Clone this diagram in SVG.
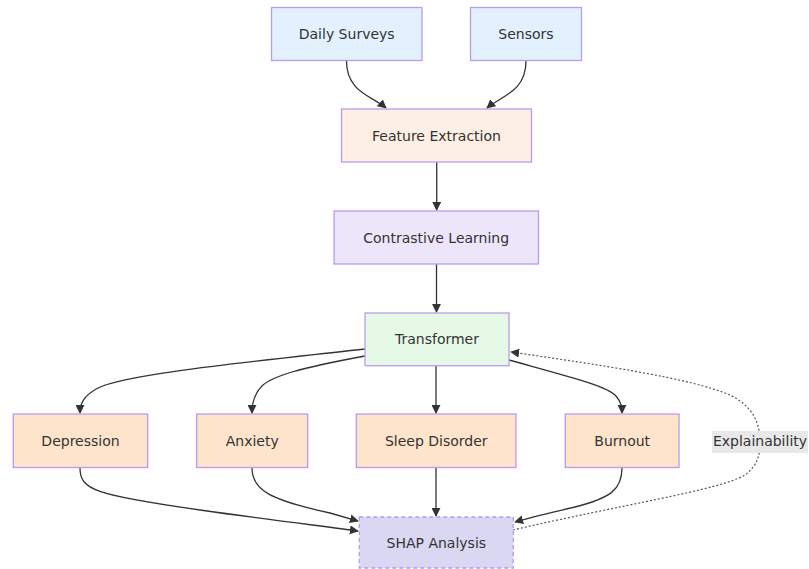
<svg xmlns="http://www.w3.org/2000/svg" width="809" height="569" viewBox="0 0 809 569">
<style>
.n rect{stroke:#b79cf0;stroke-width:1.3}
.t{font-family:"DejaVu Sans",Verdana,sans-serif;font-size:14px;fill:#333;text-anchor:middle;dominant-baseline:central}
.e{fill:none;stroke:#333;stroke-width:1.3}
.d{fill:none;stroke:#555;stroke-width:1.2;stroke-dasharray:2,2}
.src rect{fill:#e3f0fd}
.out rect{fill:#ffe4cc}
</style>
<defs>
<marker id="a" viewBox="0 0 10 10" refX="9" refY="5" markerWidth="9" markerHeight="9" markerUnits="userSpaceOnUse" orient="auto">
<path d="M0,0 L10,5 L0,10 z" fill="#333"/>
</marker>
</defs>
<g id="connectors">
<path class="e" d="M346.5,61 C346.5,92 372,96 386,108" marker-end="url(#a)"/>
<path class="e" d="M526,61 C526,92 501,96 487,108" marker-end="url(#a)"/>
<path class="e" d="M436.7,162 L436.7,210" marker-end="url(#a)"/>
<path class="e" d="M436.5,264 L436.5,312" marker-end="url(#a)"/>
<path class="e" d="M365,349 C250,362 125,374 98,388 C83,396 80,404 80,413" marker-end="url(#a)"/>
<path class="e" d="M365,356 C300,368 272,376 262,386 C254,394 252,404 252,413" marker-end="url(#a)"/>
<path class="e" d="M436,365.7 L436,413" marker-end="url(#a)"/>
<path class="e" d="M509,360 C570,377 607,386 616,396 C622,403 622,408 622,413" marker-end="url(#a)"/>
<path class="d" d="M513,530 C620,505 720,490 745,475 C758,465 760,455 760,441 C760,420 750,405 730,395 C690,378 600,365 511,352" marker-end="url(#a)"/>
<path class="e" d="M80,468 C80,490 95,495 200,510 C270,520 330,527 358,531" marker-end="url(#a)"/>
<path class="e" d="M252,468 C252,490 270,500 330,513 L358,521" marker-end="url(#a)"/>
<path class="e" d="M436,468 L436,516" marker-end="url(#a)"/>
<path class="e" d="M622,468 C622,490 610,498 575,507 C550,513 532,517 515,522" marker-end="url(#a)"/>
</g>
<g id="explainability-label">
<rect x="712" y="431" width="96" height="22" fill="#e8e8e8"/>
<text class="t" x="760" y="441">Explainability</text>
</g>
<g id="daily-surveys" class="n src"><rect x="271.5" y="7.5" width="150.5" height="53"/><text class="t" x="346.7" y="34">Daily Surveys</text></g>
<g id="sensors" class="n src"><rect x="470.5" y="7.5" width="111" height="53"/><text class="t" x="526" y="34">Sensors</text></g>
<g id="feature-extraction" class="n"><rect x="341.5" y="109" width="190" height="53" fill="#fdefe4"/><text class="t" x="436.5" y="135.5">Feature Extraction</text></g>
<g id="contrastive-learning" class="n"><rect x="334" y="211" width="204.5" height="53" fill="#ede6fb"/><text class="t" x="436.2" y="237.5">Contrastive Learning</text></g>
<g id="transformer" class="n"><rect x="365" y="313" width="144" height="52.7" fill="#e6f9e6"/><text class="t" x="437" y="339">Transformer</text></g>
<g id="depression" class="n out"><rect x="13.3" y="414" width="134.4" height="53.5"/><text class="t" x="80.5" y="441">Depression</text></g>
<g id="anxiety" class="n out"><rect x="196.7" y="414" width="111" height="53.5"/><text class="t" x="252.2" y="441">Anxiety</text></g>
<g id="sleep-disorder" class="n out"><rect x="356.3" y="414" width="159.7" height="53.5"/><text class="t" x="436.2" y="441">Sleep Disorder</text></g>
<g id="burnout" class="n out"><rect x="565.3" y="414" width="113.7" height="53.5"/><text class="t" x="622.2" y="441">Burnout</text></g>
<g id="shap-analysis" class="n"><rect x="359.3" y="517" width="154" height="51" fill="#d9d7f1" stroke-dasharray="4,3"/><text class="t" x="436.3" y="543">SHAP Analysis</text></g>
</svg>
